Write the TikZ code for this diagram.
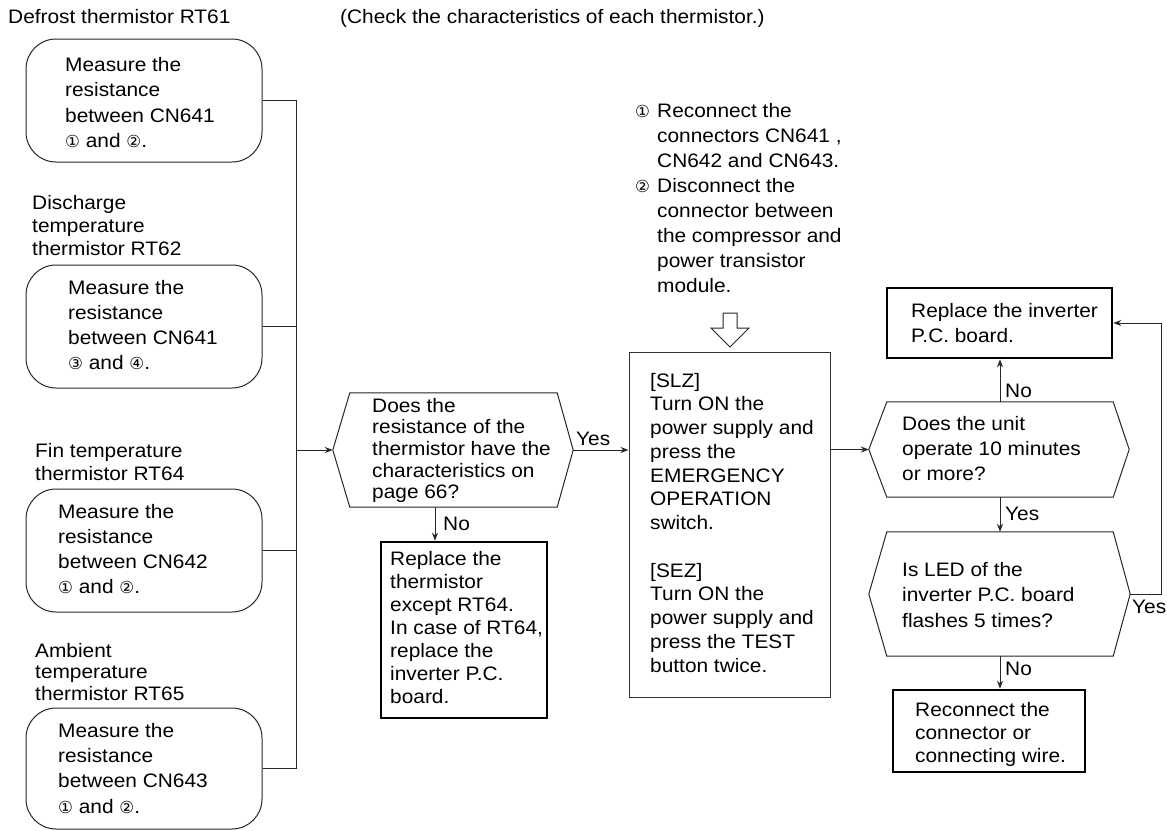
\documentclass[tikz,border=0pt]{standalone}
\usepackage{fontspec}
\setmainfont{Liberation Sans}[FakeStretch=1.07]
\newfontfamily\circfont{DejaVu Sans}[Scale=0.85]
\usetikzlibrary{arrows.meta,calc}
% circled digits come from DejaVu Sans
\newcommand{\cd}[1]{{\circfont #1}}
% strut that fixes the distance from a text block's top to its first baseline
\newcommand{\fl}{\rule{0pt}{16pt}}
\tikzset{
  conn/.style={line width=1pt, draw=black!85},
  arr/.style={conn, -{Stealth[length=8pt,width=6pt]}},
  roundbox/.style={draw=black!85, line width=1pt, rounded corners=30pt,
    minimum width=236pt, inner sep=0pt},
  plainbox/.style={draw=black!80, line width=1pt, inner sep=0pt},
  heavybox/.style={draw=black, line width=2.6pt, inner sep=0pt},
  hexbody/.style={inner sep=0pt, draw=none},
  hexline/.style={draw=black!85, line width=1pt, line join=miter},
  txt/.style={anchor=north west, inner sep=0pt, align=left,
    font=\fontsize{19.5pt}{#1pt}\selectfont},
  txt/.default=25,
  lbl/.style={anchor=base west, inner sep=0pt, font=\fontsize{19.5pt}{23pt}\selectfont},
}
\begin{document}
\begin{tikzpicture}[x=1pt,y=-1pt]
\fill[white] (0,0) rectangle (1167,830);
\useasboundingbox (0,0) rectangle (1167,830);

% ---------- headings ----------
\node[lbl] (hd1) at (8,23) {Defrost thermistor RT61};
\node[lbl] (hd2) at (340,23) {(Check the characteristics of each thermistor.)};

% ---------- measurement boxes (left column) ----------
\node[roundbox, minimum height=123pt] (b1) at (144,100.5) {};
\node[roundbox, minimum height=123pt] (b2) at (144,326.5) {};
\node[roundbox, minimum height=123pt] (b3) at (144,550.5) {};
\node[roundbox, minimum height=121pt] (b4) at (144,768.5) {};

\node[txt=25.5] (tb1) at (65,55) {\fl Measure the\\resistance\\between CN641\\\cd{①} and \cd{②}.};
\node[txt=23] (tl2) at (32,193) {\fl Discharge\\temperature\\thermistor RT62};
\node[txt=25] (tb2) at (68,278) {\fl Measure the\\resistance\\between CN641\\\cd{③} and \cd{④}.};
\node[txt=23] (tl3) at (35,441) {\fl Fin temperature\\thermistor RT64};
\node[txt=25] (tb3) at (58,502) {\fl Measure the\\resistance\\between CN642\\\cd{①} and \cd{②}.};
\node[txt=21.5] (tl4) at (35,641) {\fl Ambient\\temperature\\thermistor RT65};
\node[txt=25.3] (tb4) at (58,721) {\fl Measure the\\resistance\\between CN643\\\cd{①} and \cd{②}.};

% collecting bus
\coordinate (bus) at (296,450);
\draw[conn] (b1.east) -| (bus);
\draw[conn] (b2.east) -| (bus);
\draw[conn] (b3.east) -| (bus);
\draw[conn] (b4.east) -| (bus);

% ---------- first decision ----------
\node[hexbody, minimum width=207pt, minimum height=114pt] (h1) at (453.5,450) {};
\coordinate (h1w) at ($(h1.west)+(-17,0)$);
\coordinate (h1e) at ($(h1.east)+(16,0)$);
\draw[hexline] (h1.north west) -- (h1.north east) -- (h1e) -- (h1.south east)
  -- (h1.south west) -- (h1w) -- cycle;
\node[txt=21.6] (th1) at (372,396) {\fl Does the\\resistance of the\\thermistor have the\\characteristics on\\page 66?};
\draw[arr] (bus) -- (h1w);

% replace thermistor
\node[heavybox, minimum width=166pt, minimum height=176pt] (r1) at (464,630) {};
\node[txt=23] (tr1) at (390,549) {\fl Replace the\\thermistor\\except RT64.\\In case of RT64,\\replace the\\inverter P.C.\\board.};
\coordinate (h1s) at ($(h1.south)+(-18.5,0)$);
\draw[arr] (h1s) -- (h1s |- r1.north);
\node[lbl] (n1) at (443,530) {No};

% ---------- preparation note and operation box ----------
\node[txt=25] (note) at (635,101) {\fl\makebox[22pt][l]{\cd{①}}Reconnect the\\\hspace*{22pt}connectors CN641 ,\\\hspace*{22pt}CN642 and CN643.\\\makebox[22pt][l]{\cd{②}}Disconnect the\\\hspace*{22pt}connector between\\\hspace*{22pt}the compressor and\\\hspace*{22pt}power transistor\\\hspace*{22pt}module.};
\draw[line width=1pt, draw=black!85, fill=white, line join=miter]
  (723,313) -- (737,313) -- (737,328) -- (749,328) -- (730,347) -- (711,328) -- (723,328) -- cycle;

\node[plainbox, minimum width=201pt, minimum height=345pt] (mid) at (729.5,524.5) {};
\node[txt=23.75] (tmid) at (650,371) {\fl [SLZ]\\Turn ON the\\power supply and\\press the\\EMERGENCY\\OPERATION\\switch.\\[23.75pt]{[SEZ]}\\Turn ON the\\power supply and\\press the TEST\\button twice.};
\draw[arr] (h1e) -- (h1e -| mid.west);
\node[lbl] (y1) at (576,445) {Yes};

% ---------- second decision ----------
\node[hexbody, minimum width=226pt, minimum height=95pt] (h2) at (1000,449.5) {};
\coordinate (h2w) at ($(h2.west)+(-18,0)$);
\coordinate (h2e) at ($(h2.east)+(16,0)$);
\draw[hexline] (h2.north west) -- (h2.north east) -- (h2e) -- (h2.south east)
  -- (h2.south west) -- (h2w) -- cycle;
\node[txt=25] (th2) at (902,414) {\fl Does the unit\\operate 10 minutes\\or more?};
\draw[arr] (mid.east |- h2w) -- (h2w);

% replace inverter board
\node[heavybox, minimum width=225pt, minimum height=70pt] (r2) at (999.5,323) {};
\node[txt=25] (tr2) at (911,301) {\fl Replace the inverter\\P.C. board.};
\draw[arr] (h2.north) -- (h2.north |- r2.south);
\node[lbl] (n2) at (1005,397) {No};

% ---------- third decision ----------
\node[hexbody, minimum width=226pt, minimum height=124pt] (h3) at (1000,594) {};
\coordinate (h3w) at ($(h3.west)+(-18,0)$);
\coordinate (h3e) at ($(h3.east)+(17,0)$);
\draw[hexline] (h3.north west) -- (h3.north east) -- (h3e) -- (h3.south east)
  -- (h3.south west) -- (h3w) -- cycle;
\node[txt=25.5] (th3) at (902,560) {\fl Is LED of the\\inverter P.C. board\\flashes 5 times?};
\draw[arr] (h2.south) -- (h2.south |- h3.north);
\node[lbl] (y2) at (1005,520) {Yes};

\draw[arr] (h3e) -- ++(31,0) |- (r2.east);
\node[lbl] (y3) at (1132,613) {Yes};

% reconnect wiring
\node[heavybox, minimum width=192pt, minimum height=82pt] (r3) at (989,731) {};
\node[txt=23] (tr3) at (915,700) {\fl Reconnect the\\connector or\\connecting wire.};
\draw[arr] (h3.south) -- (h3.south |- r3.north);
\node[lbl] (n3) at (1005,675) {No};
\end{tikzpicture}
\end{document}
